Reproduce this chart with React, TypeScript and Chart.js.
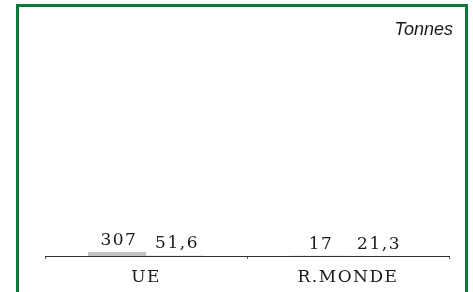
import React, { useEffect, useRef } from "react";
import { Chart, registerables } from "chart.js";

Chart.register(...registerables);

const categories = ["UE", "R.MONDE"];
const seriesA = [307, 17];
const seriesB = [51.6, 21.3];
const unitLabel = "Tonnes";

const fmt = (v: number) => String(v).replace(".", ",");

const frame = {
  id: "frame",
  beforeDraw(chart: any) {
    const ctx = chart.ctx;
    ctx.save();
    ctx.strokeStyle = "#0b7a3b";
    ctx.lineWidth = 3;
    ctx.beginPath();
    ctx.moveTo(17.5, chart.height + 5);
    ctx.lineTo(17.5, 5.5);
    ctx.lineTo(466.5, 5.5);
    ctx.lineTo(466.5, chart.height + 5);
    ctx.stroke();
    ctx.restore();
    try { ctx.letterSpacing = "1.5px"; } catch (e) {}
  },
};

const valueLabels = {
  id: "valueLabels",
  afterDatasetsDraw(chart: any) {
    const ctx = chart.ctx;
    ctx.save();
    ctx.font = '17px "DejaVu Serif"';
    ctx.fillStyle = "#1a1a1a";
    ctx.textAlign = "center";
    ctx.textBaseline = "alphabetic";
    try { ctx.letterSpacing = "1.5px"; } catch (e) {}
    chart.data.datasets.forEach((ds: any, i: number) => {
      const meta = chart.getDatasetMeta(i);
      meta.data.forEach((bar: any, j: number) => {
        ctx.fillText(fmt(ds.data[j]), bar.x + 2, bar.y - 7);
      });
    });
    ctx.restore();
  },
};

const unitTitle = {
  id: "unitTitle",
  afterDraw(chart: any) {
    const ctx = chart.ctx;
    ctx.save();
    try { ctx.letterSpacing = "0px"; } catch (e) {}
    ctx.font = 'italic 18px "Liberation Sans"';
    ctx.fillStyle = "#1a1a1a";
    ctx.textAlign = "right";
    ctx.textBaseline = "middle";
    ctx.fillText(unitLabel, chart.width - 20, 30);
    ctx.restore();
  },
};

export default function App() {
  const ref = useRef<HTMLCanvasElement>(null);
  useEffect(() => {
    if (!ref.current) return;
    const chart = new Chart(ref.current, {
      type: "bar",
      data: {
        labels: categories,
        datasets: [
          { data: seriesA, backgroundColor: "#c3c3c3", categoryPercentage: 0.575, barPercentage: 1 },
          { data: seriesB, backgroundColor: "#e8e8e8", categoryPercentage: 0.575, barPercentage: 1 },
        ],
      },
      options: {
        animation: false,
        responsive: false,
        maintainAspectRatio: false,
        layout: { padding: { left: 45, right: 24, top: 20, bottom: 0 } },
        plugins: { legend: { display: false }, tooltip: { enabled: false }, title: { display: false } },
        scales: {
          x: {
            afterFit: (scale: any) => { scale.height = 36; },
            grid: { display: true, drawOnChartArea: false, offset: true, tickLength: 3, color: "#555" },
            border: { display: true, color: "#333", width: 1 },
            ticks: { color: "#1a1a1a", padding: 8, font: { family: "DejaVu Serif", size: 17 } },
          },
          y: { display: false, min: 0, max: 18000 },
        },
      },
      plugins: [frame, valueLabels, unitTitle],
    });
    return () => chart.destroy();
  }, []);
  return (
    <div style={{ position: "absolute", left: 0, top: 0, width: 473, height: 292, overflow: "hidden", background: "#fff" }}>
      <canvas ref={ref} width={473} height={292} style={{ display: "block" }} />
    </div>
  );
}
